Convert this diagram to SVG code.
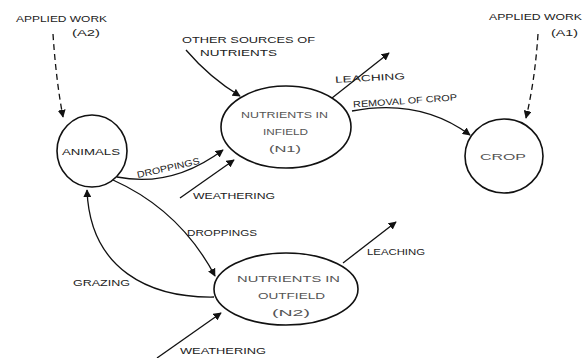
<svg xmlns="http://www.w3.org/2000/svg" width="586" height="358" viewBox="0 0 586 358">
<style>
.node{fill:none;stroke:#111;stroke-width:1.6}
.c{fill:none;stroke:#111;stroke-width:1.3}
.d{fill:none;stroke:#111;stroke-width:1.3;stroke-dasharray:6 4}
text{font-family:"Liberation Sans",Arial,sans-serif;font-size:9px;fill:#222}
.in{fill:#555}
</style>
<defs>
<marker id="ah" viewBox="0 0 10 10" refX="9" refY="5" markerWidth="8" markerHeight="8" markerUnits="userSpaceOnUse" orient="auto">
<path d="M0,0 L10,5 L0,10 z" fill="#111"/>
</marker>
</defs>
<rect width="586" height="358" fill="#fff"/>
<g id="connectors">
<path class="d" d="M53,34 Q56,80 63,117" marker-end="url(#ah)"/>
<path class="d" d="M538,34 Q535,80 526,118" marker-end="url(#ah)"/>
<path class="c" d="M186,50 Q210,78 240,96" marker-end="url(#ah)"/>
<path class="c" d="M332,98 L389,53" marker-end="url(#ah)"/>
<path class="c" d="M352,111 Q420,98 470,135" marker-end="url(#ah)"/>
<path class="c" d="M117,177 Q172,188 223,150" marker-end="url(#ah)"/>
<path class="c" d="M180,198 L234,160" marker-end="url(#ah)"/>
<path class="c" d="M113,180 Q180,210 215,276" marker-end="url(#ah)"/>
<path class="c" d="M214,297 C150,298 90,270 87,190" marker-end="url(#ah)"/>
<path class="c" d="M157,358 L221,313" marker-end="url(#ah)"/>
<path class="c" d="M343,263 L396,222" marker-end="url(#ah)"/>
</g>
<g id="labels">
<text x="16" y="22" textLength="91" lengthAdjust="spacingAndGlyphs">APPLIED WORK</text>
<text x="72" y="36" textLength="28" lengthAdjust="spacingAndGlyphs">(A2)</text>
<text x="489" y="20" textLength="93" lengthAdjust="spacingAndGlyphs">APPLIED WORK</text>
<text x="551" y="36" textLength="27" lengthAdjust="spacingAndGlyphs">(A1)</text>
<text x="182" y="43" textLength="133" lengthAdjust="spacingAndGlyphs">OTHER SOURCES OF</text>
<text x="200" y="56" textLength="77" lengthAdjust="spacingAndGlyphs">NUTRIENTS</text>
<text x="335" y="81" textLength="70" lengthAdjust="spacingAndGlyphs" transform="rotate(-3 370 78)">LEACHING</text>
<text x="353" y="104" textLength="104" lengthAdjust="spacingAndGlyphs" transform="rotate(-4 405 101)">REMOVAL OF CROP</text>
<text x="136" y="171" textLength="64" lengthAdjust="spacingAndGlyphs" transform="rotate(-13 168 167)">DROPPINGS</text>
<text x="193" y="199" textLength="82" lengthAdjust="spacingAndGlyphs">WEATHERING</text>
<text x="187" y="236" textLength="70" lengthAdjust="spacingAndGlyphs">DROPPINGS</text>
<text x="73" y="286" textLength="57" lengthAdjust="spacingAndGlyphs">GRAZING</text>
<text x="367" y="255" textLength="58" lengthAdjust="spacingAndGlyphs">LEACHING</text>
<text x="180" y="354" textLength="86" lengthAdjust="spacingAndGlyphs">WEATHERING</text>
</g>
<g id="animals">
<ellipse class="node" cx="92" cy="151" rx="35" ry="36"/>
<text x="62" y="155" textLength="58" lengthAdjust="spacingAndGlyphs">ANIMALS</text>
</g>
<g id="infield">
<ellipse class="node" cx="286" cy="127" rx="65" ry="41"/>
<text class="in" x="241" y="118" textLength="87" lengthAdjust="spacingAndGlyphs">NUTRIENTS IN</text>
<text class="in" x="263" y="135" textLength="45" lengthAdjust="spacingAndGlyphs">INFIELD</text>
<text class="in" x="269" y="152" textLength="32" lengthAdjust="spacingAndGlyphs">(N1)</text>
</g>
<g id="crop">
<ellipse class="node" cx="504" cy="156" rx="39" ry="37"/>
<text class="in" x="480" y="160" textLength="46" lengthAdjust="spacingAndGlyphs">CROP</text>
</g>
<g id="outfield">
<ellipse class="node" cx="286" cy="289" rx="72" ry="36"/>
<text class="in" x="237" y="282" textLength="103" lengthAdjust="spacingAndGlyphs">NUTRIENTS IN</text>
<text class="in" x="258" y="299" textLength="67" lengthAdjust="spacingAndGlyphs">OUTFIELD</text>
<text class="in" x="272" y="316" textLength="38" lengthAdjust="spacingAndGlyphs">(N2)</text>
</g>
</svg>
